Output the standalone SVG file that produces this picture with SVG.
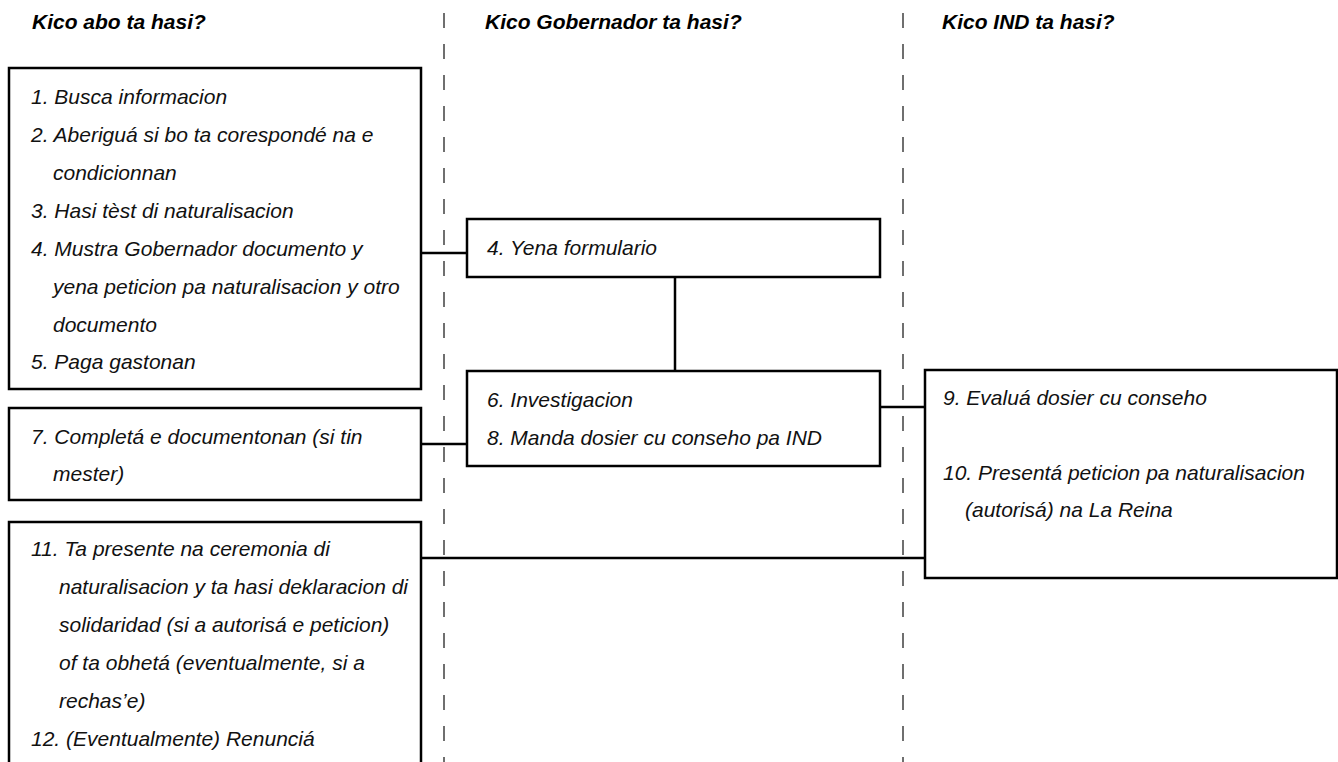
<svg xmlns="http://www.w3.org/2000/svg" width="1338" height="762" viewBox="0 0 1338 762">
<style>
.box{fill:#fff;stroke:#000;stroke-width:2.5}
.con{stroke:#000;stroke-width:2.5;fill:none}
.lane{stroke:#333;stroke-width:1.4;stroke-dasharray:15 16;fill:none}
.hd{font-family:"Liberation Sans",Arial,sans-serif;font-weight:bold;font-style:italic;font-size:21px;fill:#000}
.tx{font-family:"Liberation Sans",Arial,sans-serif;font-style:italic;font-size:21px;fill:#111}
</style>
<rect width="1338" height="762" fill="#fff"/>
<g id="lanes">
<line class="lane" x1="444" y1="13" x2="444" y2="762"/>
<line class="lane" x1="903" y1="13" x2="903" y2="762"/>
</g>
<g id="headers">
<text class="hd" x="32" y="29">Kico abo ta hasi?</text>
<text class="hd" x="485" y="29">Kico Gobernador ta hasi?</text>
<text class="hd" x="942" y="29">Kico IND ta hasi?</text>
</g>
<g id="connectors">
<line class="con" x1="421" y1="253" x2="467" y2="253"/>
<line class="con" x1="675" y1="277" x2="675" y2="371"/>
<line class="con" x1="421" y1="444" x2="467" y2="444"/>
<line class="con" x1="880" y1="407" x2="925" y2="407"/>
<line class="con" x1="421" y1="558" x2="925" y2="558"/>
</g>
<g id="n1">
<rect class="box" x="9" y="68" width="412" height="321"/>
<text class="tx" x="31" y="104">1. Busca informacion</text>
<text class="tx" x="31" y="142">2. Aberiguá si bo ta corespondé na e</text>
<text class="tx" x="53" y="180">condicionnan</text>
<text class="tx" x="31" y="218">3. Hasi tèst di naturalisacion</text>
<text class="tx" x="31" y="256">4. Mustra Gobernador documento y</text>
<text class="tx" x="53" y="294">yena peticion pa naturalisacion y otro</text>
<text class="tx" x="53" y="332">documento</text>
<text class="tx" x="31" y="369">5. Paga gastonan</text>
</g>
<g id="n7">
<rect class="box" x="9" y="408" width="412" height="92"/>
<text class="tx" x="31" y="444">7. Completá e documentonan (si tin</text>
<text class="tx" x="53" y="481">mester)</text>
</g>
<g id="n11">
<rect class="box" x="9" y="522" width="412" height="260"/>
<text class="tx" x="31" y="556">11. Ta presente na ceremonia di</text>
<text class="tx" x="59" y="594">naturalisacion y ta hasi deklaracion di</text>
<text class="tx" x="59" y="632">solidaridad (si a autorisá e peticion)</text>
<text class="tx" x="59" y="670">of ta obhetá (eventualmente, si a</text>
<text class="tx" x="59" y="708">rechas’e)</text>
<text class="tx" x="31" y="746">12. (Eventualmente) Renunciá</text>
</g>
<g id="n4">
<rect class="box" x="467" y="219" width="413" height="58"/>
<text class="tx" x="487" y="255">4. Yena formulario</text>
</g>
<g id="n6">
<rect class="box" x="467" y="371" width="413" height="95"/>
<text class="tx" x="487" y="407">6. Investigacion</text>
<text class="tx" x="487" y="445">8. Manda dosier cu conseho pa IND</text>
</g>
<g id="n9">
<rect class="box" x="925" y="370" width="412" height="208"/>
<text class="tx" x="943" y="405">9. Evaluá dosier cu conseho</text>
<text class="tx" x="943" y="480">10. Presentá peticion pa naturalisacion</text>
<text class="tx" x="965" y="517">(autorisá) na La Reina</text>
</g>
</svg>
